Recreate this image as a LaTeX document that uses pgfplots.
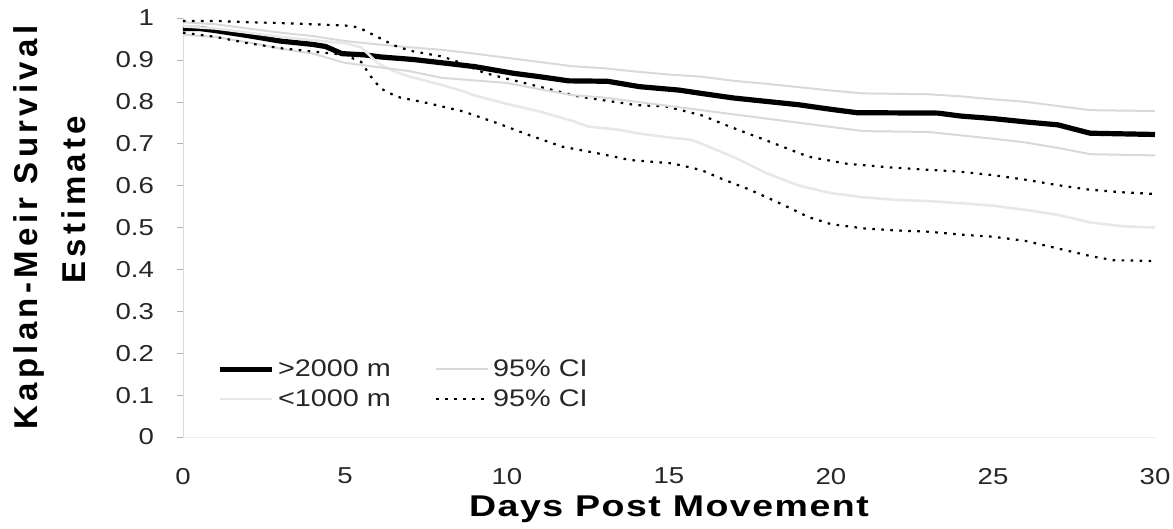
\documentclass[border=0pt]{standalone}
\usepackage{fontspec}
\setmainfont{Liberation Sans}[FakeStretch=1.2]
\newfontfamily\xlabfont{Liberation Sans}[FakeStretch=1.25,LetterSpace=5]
\newfontfamily\ylabfont{Liberation Sans}[LetterSpace=13]
\usepackage{pgfplots}
\pgfplotsset{compat=1.18}
\usepackage{pgfplotstable}

\pgfplotstableread{
x y
0 0.975
0.5 0.975
1 0.97
2 0.958
3 0.945
4 0.937
4.4 0.932
4.9 0.915
5.6 0.912
6.1 0.907
7.1 0.901
8 0.893
9 0.884
10.2 0.868
11 0.86
11.9 0.85
13.1 0.849
14.1 0.836
15.3 0.828
16 0.82
17 0.809
18 0.801
19 0.793
20 0.782
20.8 0.774
23.3 0.773
24 0.766
25 0.76
26 0.752
27 0.745
27.5 0.735
28 0.725
30 0.722
}\mainhigh

\pgfplotstableread{
x y
0 0.99
1 0.985
2 0.975
3 0.965
4 0.957
5 0.945
6 0.937
7 0.93
8 0.924
9 0.915
10 0.905
11 0.895
12 0.885
13 0.88
14 0.872
15 0.865
16 0.86
17 0.85
18 0.843
19 0.835
20 0.827
21 0.82
23 0.818
24 0.813
25 0.806
26 0.80
27 0.79
28 0.78
30 0.778
}\cihighup

\pgfplotstableread{
x y
0 0.96
1 0.955
2 0.942
3 0.927
4 0.915
5 0.893
6 0.883
7 0.873
8 0.857
9 0.851
10 0.845
11 0.83
12 0.816
13 0.81
14 0.80
15 0.79
16 0.78
17 0.77
18 0.76
19 0.75
20 0.74
21 0.73
23 0.728
24 0.72
25 0.712
26 0.703
27 0.69
28 0.675
30 0.672
}\cihighlow

\pgfplotstableread{
x y
0 0.98
1 0.975
2 0.965
3 0.955
4 0.947
5 0.94
5.5 0.93
6 0.893
6.5 0.873
7 0.86
8 0.84
8.65 0.825
9 0.815
10 0.795
11 0.777
12 0.755
12.5 0.741
13.5 0.733
14 0.725
15 0.715
15.7 0.709
16 0.70
17 0.668
18 0.63
19 0.60
20 0.582
21 0.572
22 0.566
23 0.563
24 0.558
25 0.552
26 0.542
27 0.53
28 0.512
29 0.503
30 0.50
}\mainlow

\pgfplotstableread{
x y
0 0.993
1 0.993
2 0.99
3 0.988
4 0.985
5 0.982
5.4 0.978
6 0.955
6.5 0.935
7 0.922
8 0.908
8.5 0.895
9.3 0.869
10 0.855
11 0.836
12.25 0.812
13.3 0.80
14 0.792
14.9 0.789
16 0.768
16.9 0.74
18.1 0.705
19.3 0.669
20.5 0.652
21.9 0.643
24 0.633
25 0.625
26 0.614
27 0.601
28 0.59
29 0.584
30 0.58
}\cilowup

\pgfplotstableread{
x y
0 0.965
1 0.955
2 0.94
3 0.928
4 0.92
5 0.912
5.5 0.895
5.8 0.86
6.1 0.832
6.6 0.812
7.6 0.796
8.65 0.777
9.7 0.749
10.7 0.72
11.7 0.693
12.8 0.677
13.8 0.661
15.1 0.653
16 0.637
16.6 0.617
17.5 0.59
18.5 0.555
19.3 0.525
20 0.508
21 0.498
22 0.493
23 0.49
24 0.483
25 0.478
26 0.468
27 0.45
28 0.432
28.7 0.422
30 0.42
}\cilowlow

\begin{document}
\begin{tikzpicture}
\begin{axis}[
  scale only axis,
  width=486pt, height=209.5pt,
  xmin=0, xmax=30, ymin=0, ymax=1,
  axis lines*=left,
  x axis line style={black!8},
  y axis line style={black!14},
  xtick={0,5,10,15,20,25,30},
  ytick={0,0.1,0.2,0.3,0.4,0.5,0.6,0.7,0.8,0.9,1},
  yticklabels={0,0.1,0.2,0.3,0.4,0.5,0.6,0.7,0.8,0.9,1},
  /pgf/number format/assume math mode=true,
  tick align=outside,
  major tick length=3pt,
  x tick style={draw=none},
  y tick style={black!30},
  tick label style={font=\fontsize{11.5}{13}\selectfont, text=black!85},
  xticklabel style={yshift=-9pt},
  yticklabel style={xshift=-8pt},
  every axis x label/.style={at={(axis description cs:0.5,0)}, anchor=center, yshift=-36pt},
  every axis y label/.style={at={(axis description cs:-0.135,0.5)}, anchor=center, rotate=90},
  xlabel={\xlabfont\bfseries\fontsize{15}{17}\selectfont Days Post Movement},
  ylabel={\ylabfont\bfseries\fontsize{16.5}{24}\selectfont
    \begin{tabular}{@{}c@{}}Kaplan-Meir Survival\\[0pt]\hspace*{28pt}Estimate\end{tabular}},
  legend columns=2,
  legend cell align=left,
  legend image code/.code={\draw[#1] (0pt,0pt) -- (26pt,0pt);},
  legend style={draw=none, fill=none, at={(axis cs:0.85,0.205)}, anchor=north west,
    font=\fontsize{12}{14}\selectfont, text=black!85,
    /tikz/every even column/.append style={column sep=20pt},
    row sep=1pt},
]
\addplot[black, line width=2.6pt] table {\mainhigh};
\addlegendentry{>2000 m}
\addplot[black!15, line width=1pt] table {\cihighup};
\addlegendentry{95\% CI}
\addplot[black!9, line width=1.3pt] table {\mainlow};
\addlegendentry{<1000 m}
\addplot[black, line width=1.1pt, dash pattern=on 1.3pt off 3.2pt] table {\cilowup};
\addlegendentry{95\% CI}
\addplot[black!15, line width=1pt, forget plot] table {\cihighlow};
\addplot[black, line width=1.1pt, dash pattern=on 1.3pt off 3.2pt, forget plot] table {\cilowlow};
\end{axis}
\pgfresetboundingbox
\path[use as bounding box] (-91.5pt,-46pt) rectangle (495pt,218.5pt);
\end{tikzpicture}
\end{document}
